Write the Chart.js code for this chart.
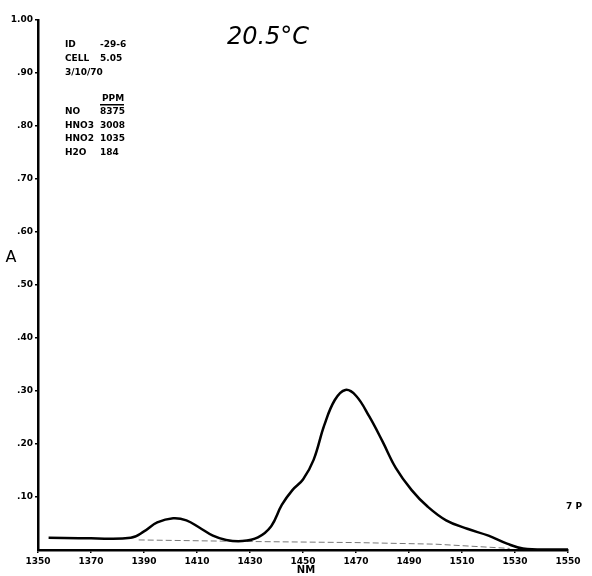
<!DOCTYPE html>
<html>
<head>
<meta charset="utf-8">
<script src="https://cdn.jsdelivr.net/npm/chart.js@4"></script>
<style>
  body { margin: 0; background: #fff; }
  canvas { display: block; }
</style>
</head>
<body>
<canvas id="myChart" width="592" height="576"></canvas>
<script>
// 스펙트럼 곡선 (NM, A)
const nm = [1354, 1370, 1385, 1390, 1395, 1401, 1406, 1411, 1416, 1421, 1427, 1433, 1438, 1442, 1446, 1450, 1454, 1458, 1462, 1466, 1470, 1475, 1480, 1485, 1491, 1497, 1504, 1512, 1520, 1527, 1533, 1545, 1550];
const absorb = [0.023, 0.022, 0.023, 0.035, 0.052, 0.060, 0.056, 0.042, 0.027, 0.019, 0.017, 0.024, 0.045, 0.085, 0.113, 0.133, 0.170, 0.235, 0.283, 0.302, 0.291, 0.252, 0.205, 0.155, 0.113, 0.082, 0.056, 0.040, 0.027, 0.012, 0.003, 0.001, 0.001];

// 기준선 (점선)
const baseNm = [1388, 1430, 1470, 1500, 1528];
const baseA = [0.019, 0.016, 0.014, 0.011, 0.003];

// 축 눈금
const xTicks = [1350, 1370, 1390, 1410, 1430, 1450, 1470, 1490, 1510, 1530, 1550];
const yTicks = [0.1, 0.2, 0.3, 0.4, 0.5, 0.6, 0.7, 0.8, 0.9, 1.0];
const yTickLabels = ['.10', '.20', '.30', '.40', '.50', '.60', '.70', '.80', '.90', '1.00'];

// 메모 글자
const infoLines = [['ID', '-29-6'], ['CELL', '5.05'], ['3/10/70', '']];
const gasNames = ['NO', 'HNO3', 'HNO2', 'H2O'];
const gasPpm = ['8375', '3008', '1035', '184'];

const tickFont = { family: '"DejaVu Sans"', size: 9, weight: 'bold' };

const notes = {
    id: 'notes',
    afterDraw(chart) {
        const ctx = chart.ctx;
        ctx.save();
        ctx.fillStyle = '#000';
        ctx.textBaseline = 'middle';

        // 온도
        ctx.font = 'italic 24px "DejaVu Sans"';
        ctx.textAlign = 'center';
        ctx.fillText('20.5°C', 268, 38);

        // 축 이름
        ctx.font = '16px "DejaVu Sans"';
        ctx.fillText('A', 11, 258);
        ctx.font = 'bold 10px "DejaVu Sans"';
        ctx.fillText('NM', 306, 570);

        // 메모
        ctx.textAlign = 'left';
        ctx.font = 'bold 9px "DejaVu Sans"';
        infoLines.forEach((l, i) => {
            ctx.fillText(l[0], 65, 45 + i * 14);
            if (l[1]) ctx.fillText(l[1], 100, 45 + i * 14);
        });
        ctx.fillText('PPM', 102, 99);
        ctx.fillRect(100, 104, 24, 1.5);
        gasNames.forEach((g, i) => {
            ctx.fillText(g, 65, 112 + i * 13.5);
            ctx.fillText(gasPpm[i], 100, 112 + i * 13.5);
        });
        ctx.fillText('7 P', 566, 507);
        ctx.restore();
    }
};

new Chart(document.getElementById('myChart'), {
    type: 'line',
    data: {
        datasets: [{
            data: nm.map((x, i) => ({ x: x, y: absorb[i] })),
            borderColor: '#000',
            borderWidth: 2.5,
            pointRadius: 0,
            tension: 0.4,
            fill: false
        }, {
            data: baseNm.map((x, i) => ({ x: x, y: baseA[i] })),
            borderColor: '#777',
            borderWidth: 1,
            borderDash: [6, 3],
            pointRadius: 0,
            fill: false
        }]
    },
    options: {
        responsive: false,
        animation: false,
        layout: { padding: { top: 20, right: 24, left: 0, bottom: 0 } },
        plugins: {
            legend: { display: false },
            tooltip: { enabled: false }
        },
        scales: {
            x: {
                type: 'linear',
                min: 1350,
                max: 1550,
                afterFit: (scale) => { scale.height = 26; },
                afterBuildTicks: (scale) => { scale.ticks = xTicks.map(v => ({ value: v })); },
                border: { display: true, color: '#000', width: 2.5 },
                grid: { drawOnChartArea: false, drawTicks: true, tickLength: 3, color: '#000', lineWidth: 1.5 },
                ticks: { color: '#000', font: tickFont, padding: 3, maxRotation: 0, callback: (v) => String(v) }
            },
            y: {
                min: 0,
                max: 1,
                afterFit: (scale) => { scale.width = 38; },
                afterBuildTicks: (scale) => { scale.ticks = yTicks.map(v => ({ value: v })); },
                border: { display: true, color: '#000', width: 2.5 },
                grid: { drawOnChartArea: false, drawTicks: true, tickLength: 3, color: '#000', lineWidth: 1.5 },
                ticks: {
                    color: '#000',
                    font: tickFont,
                    padding: 2,
                    callback: (v) => {
                        const i = yTicks.findIndex(t => Math.abs(t - v) < 1e-6);
                        return i >= 0 ? yTickLabels[i] : '';
                    }
                }
            }
        }
    },
    plugins: [notes]
});
</script>
</body>
</html>
